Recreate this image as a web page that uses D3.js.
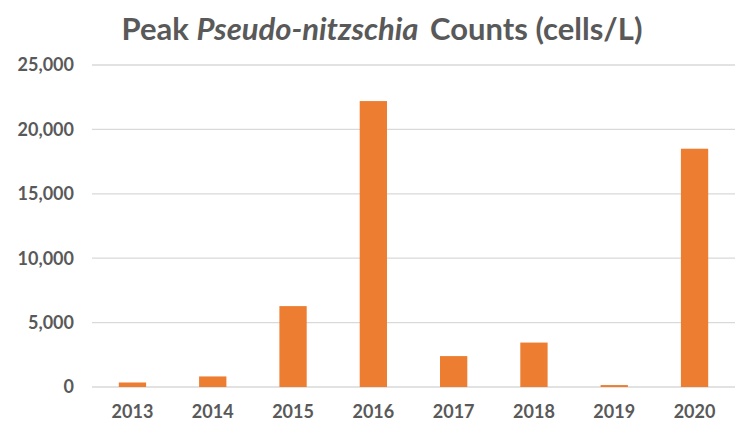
<!DOCTYPE html>
<html><head><meta charset="utf-8">
<script src="https://cdn.jsdelivr.net/npm/d3@7"></script>
<style>body{margin:0;background:#fff}svg{display:block}</style>
</head><body>
<svg id="c" width="743" height="421"></svg>
<script>
const years = ["2013","2014","2015","2016","2017","2018","2019","2020"];
const counts = [350, 820, 6280, 22200, 2400, 3450, 150, 18500];
const yTicks = [0, 5000, 10000, 15000, 20000, 25000];

const svg = d3.select("#c");
const font = "Lato, 'Open Sans', sans-serif";
const grey = "#595959";
const x = d3.scaleBand().domain(years).range([92.3, 734.7]).paddingInner(0.66).paddingOuter(0.33);
const y = d3.scaleLinear().domain([0, 25000]).range([387, 65]);

svg.append("g").selectAll("line").data(yTicks).join("line")
  .attr("x1", 92).attr("x2", 735)
  .attr("y1", d => y(d)).attr("y2", d => y(d))
  .attr("stroke", "#D9D9D9").attr("stroke-width", 1.3);

svg.append("g").selectAll("text").data(yTicks).join("text")
  .attr("x", 74).attr("y", d => y(d)).attr("dy", "0.36em")
  .attr("text-anchor", "end").attr("font-family", font).attr("font-weight", "bold")
  .attr("font-size", 18).attr("fill", grey)
  .text(d => d3.format(",")(d));

svg.append("g").selectAll("rect").data(years).join("rect")
  .attr("x", d => x(d)).attr("width", x.bandwidth())
  .attr("y", (d, i) => y(counts[i])).attr("height", (d, i) => y(0) - y(counts[i]))
  .attr("fill", "#ED7D31");

svg.append("g").selectAll("text").data(years).join("text")
  .attr("x", d => x(d) + x.bandwidth() / 2).attr("y", 418)
  .attr("text-anchor", "middle").attr("font-family", font).attr("font-weight", "bold")
  .attr("font-size", 18).attr("fill", grey)
  .text(d => d);

const t = svg.append("text").attr("x", 382).attr("y", 40).attr("text-anchor", "middle")
  .attr("font-family", font).attr("font-weight", "bold").attr("font-size", 31).attr("fill", grey);
t.append("tspan").text("Peak ");
t.append("tspan").attr("font-style", "italic").text("Pseudo-nitzschia");
t.append("tspan").attr("dx", 4).text(" Counts (cells/L)");
</script>
</body></html>
